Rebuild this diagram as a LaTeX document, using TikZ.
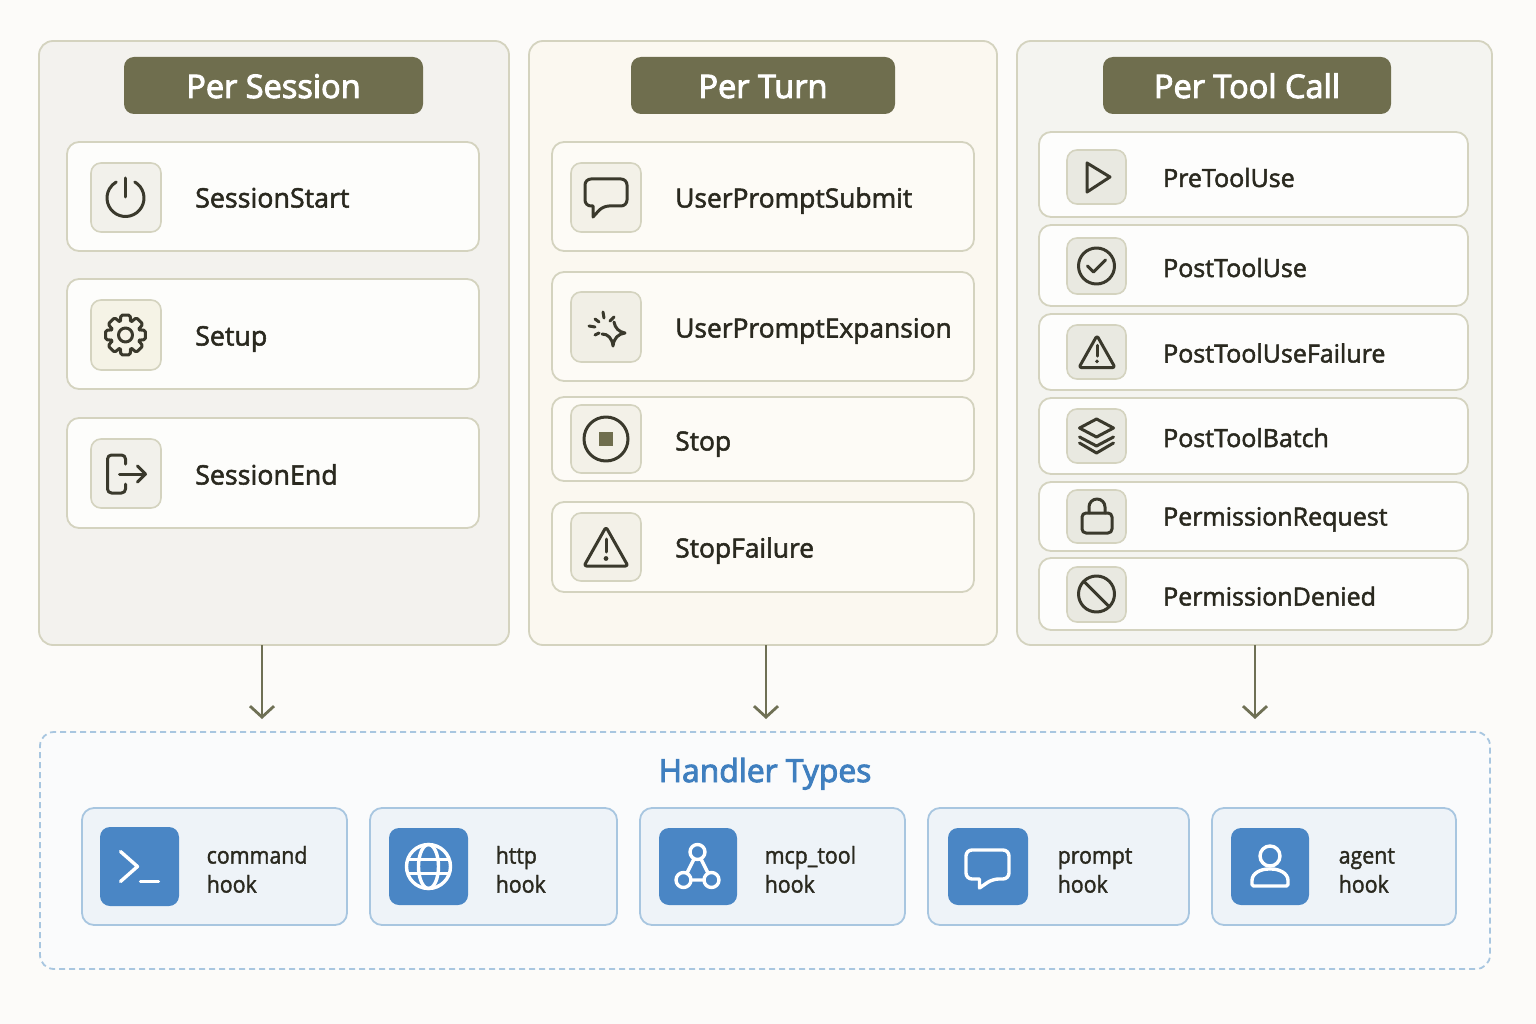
\documentclass[tikz,border=0pt]{standalone}
\usepackage{fontspec}
\setmainfont{Open Sans}[FakeBold=2]
\newfontfamily\headfont{Open Sans}[FakeBold=3]
\newfontfamily\hookfont{Open Sans}[FakeBold=1.5,FakeStretch=0.92]
\usetikzlibrary{arrows.meta}
\definecolor{bg}{HTML}{FCFBF9}
\definecolor{olive}{HTML}{6F6E4E}
\definecolor{oliveline}{HTML}{6F7055}
\definecolor{ink}{HTML}{3A392C}
\definecolor{txt}{HTML}{2A291F}
\definecolor{edge}{HTML}{D4D3BF}
\definecolor{blueedge}{HTML}{A8C6E0}
\definecolor{bluefill}{HTML}{4A86C5}
\definecolor{bluetxt}{HTML}{3F7FBF}
\definecolor{hookfill}{HTML}{EEF3F8}
\definecolor{frame}{HTML}{FAFBFC}
\definecolor{F3F2EE}{HTML}{F3F2EE}
\definecolor{FBF8F0}{HTML}{FBF8F0}
\definecolor{F4F4F0}{HTML}{F4F4F0}
\definecolor{FDFDFB}{HTML}{FDFDFB}
\definecolor{FDFBF6}{HTML}{FDFBF6}
\definecolor{FDFDFC}{HTML}{FDFDFC}
\definecolor{F2F1EB}{HTML}{F2F1EB}
\definecolor{F5F3E6}{HTML}{F5F3E6}
\definecolor{F3F1E8}{HTML}{F3F1E8}
\definecolor{F1EFE6}{HTML}{F1EFE6}
\definecolor{E9E9E1}{HTML}{E9E9E1}
\tikzset{
  x=1pt,y=-1pt,
  card/.style={rectangle,inner sep=0pt,outer sep=0pt,draw=edge,line width=1.8pt},
  panelA/.style={card,fill=#1,rounded corners=14pt},
  headbox/.style={rectangle,inner sep=0pt,outer sep=0pt,fill=olive,rounded corners=10pt},
  headtxt/.style={anchor=base,inner sep=0pt,text=white,font=\headfont\fontsize{32.5}{36}\selectfont},
  rowbox/.style={card,fill=#1,rounded corners=12pt},
  iconbox/.style={card,fill=#1,rounded corners=10pt,line width=1.6pt},
  rowtxt/.style={anchor=base west,inner sep=0pt,text=txt,font=\fontsize{#1}{30}\selectfont},
  hookbox/.style={rectangle,inner sep=0pt,outer sep=0pt,draw=blueedge,line width=1.8pt,fill=hookfill,rounded corners=12pt},
  hookicon/.style={rectangle,inner sep=0pt,outer sep=0pt,fill=bluefill,rounded corners=10pt},
  hooktxt/.style={anchor=west,align=left,inner sep=0pt,text=txt,font=\hookfont\fontsize{23.2}{29}\selectfont},
  flow/.style={draw=oliveline,line width=2.8pt,-{Straight Barb[length=11pt,width=24pt]},shorten >=13pt},
  ln/.style={draw=ink,line width=3pt,line cap=round,line join=round},
  wl/.style={draw=white,line width=3.4pt,line cap=round,line join=round},
}
\newcommand{\card}[6]{\node[#6,minimum width={(#4)-(#2)},minimum height={(#5)-(#3)}] (#1) at ({(#2+#4)/2},{(#3+#5)/2}) {};}
\newcommand{\iconat}[3]{\begin{scope}[shift={(#1,#2)},x=1pt,y=1pt]#3\end{scope}}
\newcommand{\warn}[1]{%
  \begin{scope}[scale=#1]
  \draw[ln,rounded corners=2.5pt] (0,20) -- (22,-19) -- (-22,-19) -- cycle;
  \draw[ln] (0,8) -- (0,-5);
  \fill[ink] (0,-11.5) circle[radius=2.4];
  \end{scope}}
\begin{document}
\begin{tikzpicture}
\useasboundingbox (0,0) rectangle (1536,1024);
\fill[bg] (0,0) rectangle (1536,1024);
% panels
\card{pA}{39}{41}{509}{645}{panelA={F3F2EE}}
\card{pB}{529}{41}{997}{645}{panelA={FBF8F0}}
\card{pC}{1017}{41}{1492}{645}{panelA={F4F4F0}}
% headers
\card{hA}{124}{57}{423}{114}{headbox}
\card{hB}{631}{57}{895}{114}{headbox}
\card{hC}{1103}{57}{1391}{114}{headbox}
\node[headtxt] (hAt) at (273.5,98) {Per Session};
\node[headtxt] (hBt) at (763,98) {Per Turn};
\node[headtxt] (hCt) at (1247,98) {Per Tool Call};
% rows A
\card{a1}{67}{142}{479}{251}{rowbox={FDFDFB}}
\card{a2}{67}{279}{479}{389}{rowbox={FDFDFB}}
\card{a3}{67}{418}{479}{528}{rowbox={FDFDFB}}
\card{a1i}{91}{163}{161}{232}{iconbox={F2F1EB}}
\card{a2i}{91}{300}{161}{370}{iconbox={F5F3E6}}
\card{a3i}{91}{439}{161}{508}{iconbox={F2F1EB}}
\node[rowtxt=26.8] (a1t) at (195,207.5) {SessionStart};
\node[rowtxt=26.8] (a2t) at (195,345.5) {Setup};
\node[rowtxt=26.8] (a3t) at (195,484.5) {SessionEnd};
\iconat{125.5}{198}{\draw[ln] (60:18.5) arc (60:-240:18.5); \draw[ln] (0,20) -- (0,1);}
\iconat{125.5}{335}{
  \draw[ln,rounded corners=1.6pt] (-13:20.5) \foreach \i in {0,1,...,7}{ -- ({\i*45-13}:20.5) -- ({\i*45+13}:20.5) -- ({\i*45+20}:15) -- ({\i*45+25}:15)} -- cycle;
  \draw[ln] (0,0) circle[radius=7];}
\iconat{125.5}{474}{
  \draw[ln,rounded corners=4pt] (0,10) -- (0,19) -- (-18,19) -- (-18,-19) -- (0,-19) -- (0,-10);
  \draw[ln] (-6,0) -- (20,0); \draw[ln] (12,8) -- (20,0) -- (12,-8);}
% rows B
\card{b1}{552}{142}{974}{251}{rowbox={FDFBF6}}
\card{b2}{552}{272}{974}{381}{rowbox={FDFBF6}}
\card{b3}{552}{397}{974}{481}{rowbox={FDFBF6}}
\card{b4}{552}{502}{974}{592}{rowbox={FDFBF6}}
\card{b1i}{571}{163}{641}{232}{iconbox={F3F1E8}}
\card{b2i}{571}{292}{641}{362}{iconbox={F1EFE6}}
\card{b3i}{571}{405}{641}{473}{iconbox={F3F1E8}}
\card{b4i}{571}{513}{641}{581}{iconbox={F3F1E8}}
\node[rowtxt=26.4] (b1t) at (675,207.5) {UserPromptSubmit};
\node[rowtxt=26.4] (b2t) at (675,337.5) {UserPromptExpansion};
\node[rowtxt=26.4] (b3t) at (675,450.5) {Stop};
\node[rowtxt=26.4] (b4t) at (675,557.5) {StopFailure};
\iconat{606}{197}{\draw[ln,rounded corners=6pt] (-21,18) -- (21,18) -- (21,-9) -- (-3,-9) [sharp corners] -- (-13,-20) -- (-13,-9) [rounded corners=6pt] -- (-21,-9) -- cycle;}
\iconat{606}{327}{
  \draw[ln] (-4,-7) .. controls (2,-7) and (6,-11) .. (7,-19) .. controls (8,-11) and (12,-7) .. (19,-6) .. controls (13,-5) and (9,-1) .. (8,5);
  \draw[ln] (-3,15) -- (-2,9); \draw[ln] (-11,8) -- (-7,5); \draw[ln] (-17,1) -- (-11,0); \draw[ln] (-11,-8) -- (-7,-6); \draw[ln] (8,10) -- (4,6);}
\iconat{606}{439}{\draw[ln] (0,0) circle[radius=22]; \fill[olive] (-7,-7) rectangle (7,7);}
\iconat{606}{547}{\warn{1}}
% rows C
\card{c1}{1039}{132}{1468}{217}{rowbox={FDFDFC}}
\card{c2}{1039}{225}{1468}{306}{rowbox={FDFDFC}}
\card{c3}{1039}{314}{1468}{390}{rowbox={FDFDFC}}
\card{c4}{1039}{398}{1468}{474}{rowbox={FDFDFC}}
\card{c5}{1039}{482}{1468}{551}{rowbox={FDFDFC}}
\card{c6}{1039}{558}{1468}{630}{rowbox={FDFDFC}}
\card{c1i}{1067}{150}{1126}{204}{iconbox={E9E9E1}}
\card{c2i}{1067}{238}{1126}{294}{iconbox={E9E9E1}}
\card{c3i}{1067}{325}{1126}{379}{iconbox={E9E9E1}}
\card{c4i}{1067}{409}{1126}{463}{iconbox={E9E9E1}}
\card{c5i}{1067}{490}{1126}{543}{iconbox={E9E9E1}}
\card{c6i}{1067}{567}{1126}{622}{iconbox={E9E9E1}}
\node[rowtxt=25] (c1t) at (1163,187) {PreToolUse};
\node[rowtxt=25] (c2t) at (1163,277) {PostToolUse};
\node[rowtxt=25] (c3t) at (1163,362.5) {PostToolUseFailure};
\node[rowtxt=25] (c4t) at (1163,447) {PostToolBatch};
\node[rowtxt=25] (c5t) at (1163,525.5) {PermissionRequest};
\node[rowtxt=25] (c6t) at (1163,605.5) {PermissionDenied};
\iconat{1097}{177}{\draw[ln] (-10,14) -- (13,0) -- (-10,-15) -- cycle;}
\iconat{1096.5}{266}{\draw[ln] (0,0) circle[radius=18]; \draw[ln] (-9,0) -- (-3,-6) -- (9,6);}
\iconat{1097}{352}{\warn{0.82}}
\iconat{1096.5}{436}{
  \draw[ln] (0,17) -- (17,8) -- (0,-1) -- (-17,8) -- cycle;
  \draw[ln] (-17,-1) -- (0,-10) -- (17,-1);
  \draw[ln] (-17,-7) -- (0,-17) -- (17,-7);}
\iconat{1097}{516}{
  \draw[ln,rounded corners=4pt] (-15,3) rectangle (15,-17);
  \draw[ln] (-8,3) -- (-8,9) arc (180:0:8) -- (8,3);}
\iconat{1096.5}{594}{\draw[ln] (0,0) circle[radius=18]; \draw[ln] (-12,12) -- (12,-12);}
% handler frame
\node[rectangle,inner sep=0pt,outer sep=0pt,draw=blueedge,fill=frame,line width=1.8pt,dash pattern=on 6pt off 4pt,rounded corners=14pt,minimum width=1450,minimum height=237] (handler) at (765,850.5) {};
\node[anchor=base,inner sep=0pt,text=bluetxt,font=\headfont\fontsize{31.8}{36}\selectfont] (handlert) at (765,782) {Handler Types};
% arrows
\coordinate (tA) at (262,732);
\coordinate (tB) at (766,732);
\coordinate (tC) at (1255,732);
\draw[flow] (pA.south -| tA) -- (tA);
\draw[flow] (pB.south -| tB) -- (tB);
\draw[flow] (pC.south -| tC) -- (tC);
% hooks
\card{k1}{82}{808}{347}{925}{hookbox}
\card{k2}{370}{808}{617}{925}{hookbox}
\card{k3}{640}{808}{905}{925}{hookbox}
\card{k4}{928}{808}{1189}{925}{hookbox}
\card{k5}{1212}{808}{1456}{925}{hookbox}
\card{k1i}{100}{827}{179}{906}{hookicon}
\card{k2i}{389}{828}{468}{905}{hookicon}
\card{k3i}{659}{828}{737}{905}{hookicon}
\card{k4i}{948}{828}{1028}{905}{hookicon}
\card{k5i}{1231}{828}{1309}{905}{hookicon}
\node[hooktxt] (k1t) at (206.5,872.3) {\strut command\\\strut hook};
\node[hooktxt] (k2t) at (495.5,872.3) {\strut http\\\strut hook};
\node[hooktxt] (k3t) at (764.5,872.3) {\strut mcp\_tool\\\strut hook};
\node[hooktxt] (k4t) at (1057.5,872.3) {\strut prompt\\\strut hook};
\node[hooktxt] (k5t) at (1338.5,872.3) {\strut agent\\\strut hook};
\iconat{139.5}{866.5}{\draw[wl] (-19,15) -- (-2,0) -- (-19,-15); \draw[wl] (1,-15) -- (19,-15);}
\iconat{428.5}{866.5}{
  \draw[wl] (0,0) circle[radius=22];
  \draw[wl] (0,0) ellipse[x radius=10,y radius=22];
  \draw[wl] (-20,7) -- (20,7); \draw[wl] (-20,-7) -- (20,-7);}
\iconat{697.5}{867}{
  \draw[wl] (0,15) -- (-14,-13) -- (14,-13) -- cycle;
  \draw[wl,fill=bluefill] (0,15) circle[radius=7.5];
  \draw[wl,fill=bluefill] (-14,-13) circle[radius=7.5];
  \draw[wl,fill=bluefill] (14,-13) circle[radius=7.5];}
\iconat{987.5}{866}{\draw[wl,rounded corners=6pt] (-21.5,16) -- (21.5,16) -- (21.5,-13) -- (5,-13) [sharp corners] -- (-8,-22) -- (-8,-13) [rounded corners=6pt] -- (-21.5,-13) -- cycle;}
\iconat{1270}{867}{
  \draw[wl] (0,11) circle[radius=10];
  \draw[wl,rounded corners=1.5pt] (-18,-19) -- (-18,-15) .. controls (-18,-6) and (-9,-2) .. (0,-2) .. controls (9,-2) and (18,-6) .. (18,-15) -- (18,-19) -- cycle;}
\end{tikzpicture}
\end{document}
